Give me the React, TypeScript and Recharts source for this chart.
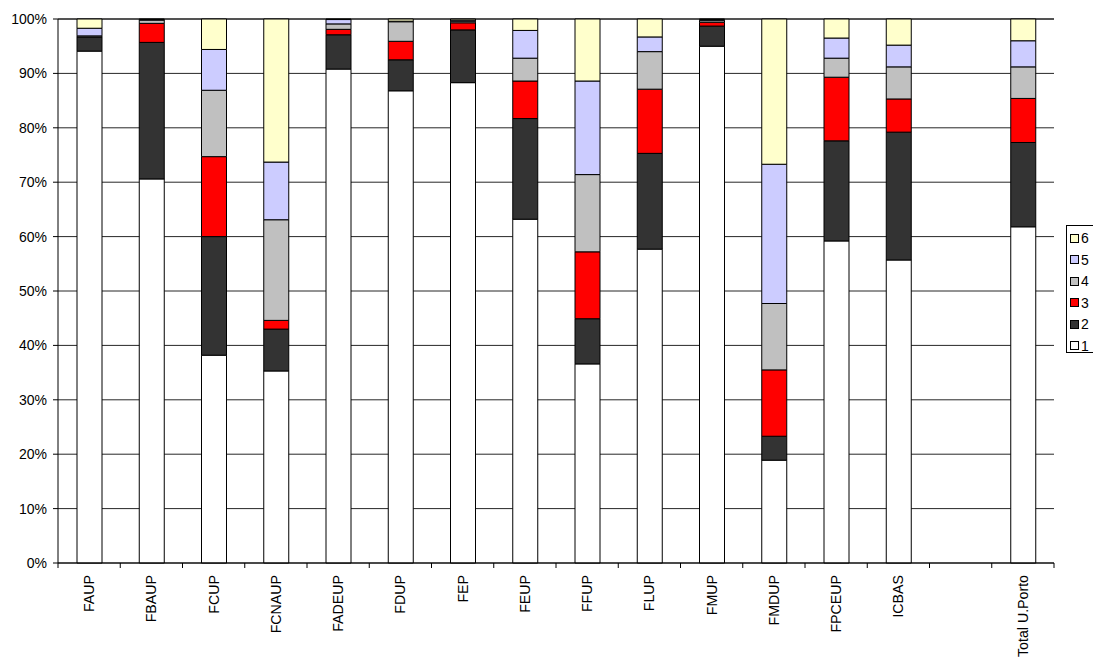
import React from 'react';
import { BarChart, Bar, XAxis, YAxis, CartesianGrid } from 'recharts';

const categories = ['FAUP', 'FBAUP', 'FCUP', 'FCNAUP', 'FADEUP', 'FDUP', 'FEP', 'FEUP', 'FFUP', 'FLUP', 'FMUP', 'FMDUP', 'FPCEUP', 'ICBAS', '', 'Total U.Porto'];

const s1 = [94.1, 70.6, 38.2, 35.3, 90.8, 86.8, 88.3, 63.2, 36.6, 57.7, 95.0, 18.9, 59.2, 55.7, null, 61.8];
const s2 = [2.6, 25.1, 21.8, 7.7, 6.3, 5.7, 9.7, 18.5, 8.3, 17.6, 3.7, 4.4, 18.4, 23.5, null, 15.5];
const s3 = [0, 3.5, 14.7, 1.6, 1.0, 3.4, 1.3, 6.9, 12.3, 11.8, 0.7, 12.2, 11.7, 6.1, null, 8.1];
const s4 = [0.2, 0.6, 12.2, 18.5, 1.0, 3.6, 0.3, 4.2, 14.2, 6.9, 0.3, 12.2, 3.5, 5.9, null, 5.8];
const s5 = [1.4, 0.1, 7.5, 10.6, 0.8, 0.1, 0.2, 5.1, 17.2, 2.7, 0.2, 25.6, 3.7, 4.0, null, 4.8];
const s6 = [1.7, 0.1, 5.6, 26.3, 0.1, 0.4, 0.2, 2.1, 11.4, 3.3, 0.1, 26.7, 3.5, 4.8, null, 4.0];

const seriesNames = ['1', '2', '3', '4', '5', '6'];
const seriesColors = ['#FFFFFF', '#333333', '#FF0000', '#C0C0C0', '#CCCCFF', '#FFFFCC'];
const seriesValues = [s1, s2, s3, s4, s5, s6];
const yTicks = [0, 10, 20, 30, 40, 50, 60, 70, 80, 90, 100];

const data = categories.map((name, i) => {
  const row: Record<string, any> = { name };
  seriesNames.forEach((k, j) => {
    row['s' + k] = seriesValues[j][i];
  });
  return row;
});

const W = 1093;
const H = 657;
const M_TOP = 19;
const M_RIGHT = 39;
const Y_W = 58;
const X_H = 94;
const PLOT_W = W - M_RIGHT - Y_W;
const HALF_BAND = PLOT_W / categories.length / 2;
const FONT = '"Liberation Sans", Arial, sans-serif';

const XTick = (props: any) => {
  const { x, y, payload, index } = props;
  const last = index === categories.length - 1;
  return (
    <g>
      <line x1={x - HALF_BAND} x2={x - HALF_BAND} y1={y} y2={y + 5} stroke="#000" />
      {last && <line x1={x + HALF_BAND} x2={x + HALF_BAND} y1={y} y2={y + 5} stroke="#000" />}
      <text
        x={x}
        y={y + 12}
        transform={`rotate(-90 ${x} ${y + 12})`}
        textAnchor="end"
        dy="0.35em"
        fontSize={14.2}
        fontFamily={FONT}
        fill="#000"
      >
        {payload.value}
      </text>
    </g>
  );
};

export default function App() {
  const legendItems = seriesNames.map((n, i) => ({ n, c: seriesColors[i] })).reverse();
  return (
    <div style={{ position: 'absolute', left: 0, top: 0, width: W, height: H, background: '#fff', overflow: 'hidden' }}>
      <BarChart
        width={W}
        height={H}
        data={data}
        margin={{ top: M_TOP, right: M_RIGHT, bottom: 0, left: 0 }}
        barSize={25}
        style={{ fontFamily: FONT }}
      >
        <CartesianGrid vertical={false} horizontal stroke="#000" strokeOpacity={0.85} />
        <XAxis
          dataKey="name"
          height={X_H}
          interval={0}
          tickLine={false}
          tickSize={0}
          tickMargin={0}
          axisLine={{ stroke: '#000' }}
          tick={<XTick />}
        />
        <YAxis
          width={Y_W}
          domain={[0, 100]}
          ticks={yTicks}
          tickFormatter={(v: number) => `${v}%`}
          axisLine={{ stroke: '#000' }}
          tickLine={{ stroke: '#000' }}
          tickSize={5}
          tickMargin={6}
          tick={{ fill: '#000', fontSize: 14, fontFamily: FONT }}
        />
        {seriesNames.map((n, i) => (
          <Bar
            key={n}
            dataKey={'s' + n}
            name={n}
            stackId="a"
            fill={seriesColors[i]}
            stroke="#000"
            strokeWidth={1}
            isAnimationActive={false}
          />
        ))}
      </BarChart>
      <div
        style={{
          position: 'absolute',
          left: 1066,
          top: 225,
          width: 40,
          height: 128,
          border: '1px solid #000',
          boxSizing: 'border-box',
          background: '#fff',
          fontFamily: FONT,
          fontSize: 14,
          color: '#000',
        }}
      >
        {legendItems.map((it, k) => (
          <div
            key={it.n}
            style={{ position: 'absolute', left: 3, top: 5 + k * 21.5, height: 14, display: 'flex', alignItems: 'center' }}
          >
            <span
              style={{
                display: 'inline-block',
                width: 7,
                height: 7,
                border: '1px solid #000',
                background: it.c,
                marginRight: 2,
              }}
            />
            <span style={{ lineHeight: '14px' }}>{it.n}</span>
          </div>
        ))}
      </div>
    </div>
  );
}
